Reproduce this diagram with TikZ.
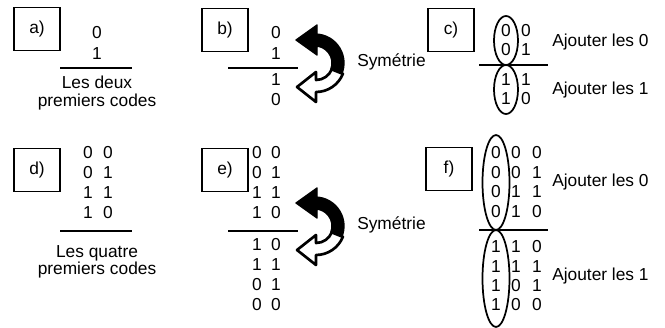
\documentclass[tikz,border=0pt]{standalone}
\usepackage{fontspec}
\setmainfont{Liberation Sans}
\usepackage{tikz}

\tikzset{
  panel/.style={draw, line width=0.9pt, minimum width=34.5pt, minimum height=32.5pt, inner sep=0pt},
  digit/.style={inner sep=0pt},
  txt/.style={inner sep=0pt, align=center},
  rule/.style={line width=1.2pt},
  loop/.style={line width=1.3pt},
}

\begin{document}
\begin{tikzpicture}[x=0.75pt, y=-0.75pt, font=\fontsize{13}{15}\selectfont]
\useasboundingbox (0,0) rectangle (665,328);

% labels of the six steps
\node [panel] (la) at (37,29) {a)};
\node [panel] (lb) at (225,30) {b)};
\node [panel] (lc) at (451,30) {c)};
\node [panel] (ld) at (37,170) {d)};
\node [panel] (le) at (225,170) {e)};
\node [panel] (lf) at (449,169) {f)};

% a)
\node [digit] (a0) at (97,33) {0};
\node [digit] (a1) at (97,54) {1};
\draw [rule] (60,68) -- (132,68);
\node [txt] (atxt) at (97,93) {Les deux\\[-2pt]premiers codes};

% b)
\node [digit] (b0) at (276,33) {0};
\node [digit] (b1) at (276,54) {1};
\draw [rule] (228,68) -- (298,68);
\node [digit] (b2) at (276,80) {1};
\node [digit] (b3) at (276,100) {0};

% c)
\foreach \a/\b [count=\i from 0] in {0/0,0/1} {
  \node [digit] (cu\i a) at (506,31+19*\i) {\a};
  \node [digit] (cu\i b) at (526,31+19*\i) {\b};
}
\foreach \a/\b [count=\i from 0] in {1/1,1/0} {
  \node [digit] (cl\i a) at (506,80+19*\i) {\a};
  \node [digit] (cl\i b) at (526,80+19*\i) {\b};
}
\draw [rule] (479,65) -- (548,65);
\draw [loop] (506,40.5) ellipse [x radius=12, y radius=24.5];
\draw [loop] (506,89.5) ellipse [x radius=12, y radius=24.5];
\node [txt, anchor=west] (cz) at (552,42) {Ajouter les 0};
\node [txt, anchor=west] (co) at (552,90) {Ajouter les 1};

% d)
\foreach \a/\b [count=\i from 0] in {0/0,0/1,1/1,1/0} {
  \node [digit] (d\i a) at (88,153+20*\i) {\a};
  \node [digit] (d\i b) at (108,153+20*\i) {\b};
}
\draw [rule] (60,231) -- (132,231);
\node [txt] (dtxt) at (97,262) {Les quatre\\[-2pt]premiers codes};

% e)
\foreach \a/\b [count=\i from 0] in {0/0,0/1,1/1,1/0} {
  \node [digit] (eu\i a) at (257,153+20*\i) {\a};
  \node [digit] (eu\i b) at (276,153+20*\i) {\b};
}
\draw [rule] (228,231) -- (298,231);
\foreach \a/\b [count=\i from 0] in {1/0,1/1,0/1,0/0} {
  \node [digit] (el\i a) at (257,245+20*\i) {\a};
  \node [digit] (el\i b) at (276,245+20*\i) {\b};
}

% f)
\foreach \a/\b/\c [count=\i from 0] in {0/0/0,0/0/1,0/1/1,0/1/0} {
  \node [digit] (fu\i a) at (496,153+19.4*\i) {\a};
  \node [digit] (fu\i b) at (516,153+19.4*\i) {\b};
  \node [digit] (fu\i c) at (537,153+19.4*\i) {\c};
}
\draw [rule] (479,230) -- (548,230);
\foreach \a/\b/\c [count=\i from 0] in {1/1/0,1/1/1,1/0/1,1/0/0} {
  \node [digit] (fl\i a) at (496,247+19.2*\i) {\a};
  \node [digit] (fl\i b) at (516,247+19.2*\i) {\b};
  \node [digit] (fl\i c) at (537,247+19.2*\i) {\c};
}
\draw [loop] (496,182.5) ellipse [x radius=13.5, y radius=47.5];
\draw [loop] (496,278.5) ellipse [x radius=13.5, y radius=48.5];
\node [txt, anchor=west] (fz) at (552,182) {Ajouter les 0};
\node [txt, anchor=west] (fo) at (552,276) {Ajouter les 1};

% symmetry arrows
\foreach \dy/\nm in {0/b,163/e} {
  \begin{scope}[shift={(0,\dy)}]
    \filldraw [line width=1pt, line join=round] (296,40) -- (317,25) -- (317,34)
      -- (315,34) arc [start angle=-90, end angle=22, radius=29] -- ++(202:12)
      arc [start angle=22, end angle=-90, radius=17] -- (317,46) -- (317,55) -- cycle;
    \draw [line width=2pt, line join=round, fill=white] (297,87) -- (316,72) -- (316,80)
      arc [start angle=90, end angle=22, radius=17] -- ++(22:12)
      arc [start angle=22, end angle=90, radius=29] -- (316,102) -- cycle;
    \node [txt, anchor=west] (sym\nm) at (357,62) {Symétrie};
  \end{scope}
}
\end{tikzpicture}
\end{document}
